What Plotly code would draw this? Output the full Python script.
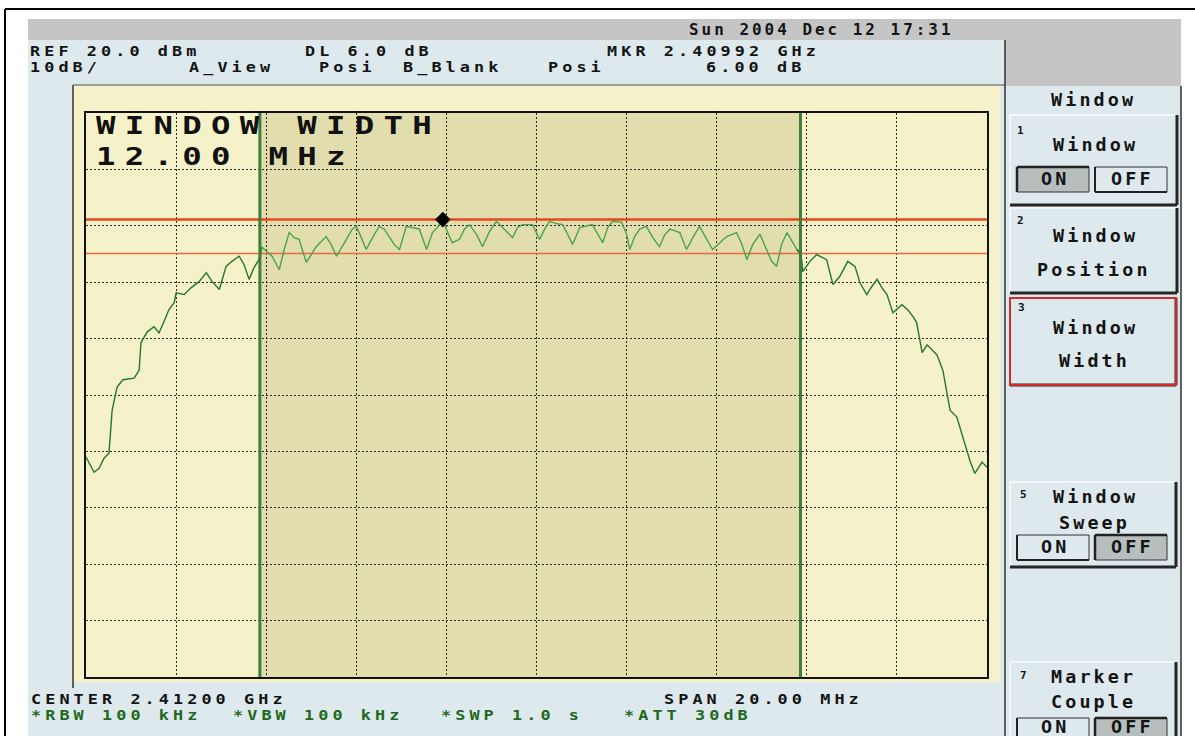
import plotly.graph_objects as go

START_GHZ = 2.402          # left edge of the display
SPAN_MHZ = 20.0
REF_DBM = 20.0
DB_PER_DIV = 10.0
N_DIV = 10

freq_offset_mhz = [0.00, 0.11, 0.18, 0.29, 0.40, 0.51, 0.58, 0.69, 0.82, 1.07,
                   1.18, 1.22, 1.36, 1.51, 1.62, 1.73, 1.84, 1.96, 2.00, 2.18,
                   2.33, 2.51, 2.67, 2.80, 2.96, 3.11, 3.24, 3.40, 3.51, 3.62,
                   3.73, 3.84, 3.91, 4.02, 4.13, 4.29, 4.40, 4.51, 4.62, 4.73,
                   4.89, 5.00, 5.11, 5.33, 5.44, 5.56, 5.67, 5.78, 5.91, 6.00,
                   6.11, 6.22, 6.36, 6.51, 6.62, 6.73, 6.84, 6.96, 7.11, 7.24,
                   7.40, 7.56, 7.69, 7.80, 7.91, 8.02, 8.13, 8.29, 8.40, 8.51,
                   8.67, 8.80, 8.96, 9.11, 9.29, 9.47, 9.58, 9.69, 9.91, 10.07,
                   10.18, 10.29, 10.44, 10.58, 10.69, 10.80, 10.96, 11.11, 11.24, 11.36,
                   11.47, 11.58, 11.69, 11.89, 12.00, 12.07, 12.18, 12.29, 12.44, 12.58,
                   12.73, 12.84, 12.96, 13.18, 13.33, 13.47, 13.62, 13.78, 13.91, 14.07,
                   14.22, 14.44, 14.56, 14.67, 14.80, 14.96, 15.11, 15.22, 15.33, 15.44,
                   15.56, 15.67, 15.78, 15.87, 15.91, 16.07, 16.22, 16.33, 16.44, 16.58,
                   16.73, 16.91, 17.07, 17.18, 17.33, 17.44, 17.56, 17.67, 17.78, 17.91,
                   18.11, 18.24, 18.36, 18.44, 18.56, 18.67, 18.78, 18.89, 19.02, 19.11,
                   19.18, 19.33, 19.47, 19.62, 19.73, 19.89, 20.00]

level_dbm = [-41.0, -42.6, -43.7, -43.0, -41.2, -40.3, -32.7, -28.6, -27.3, -27.0,
             -25.6, -20.7, -18.8, -17.9, -19.0, -17.0, -14.9, -13.6, -11.9, -12.2,
             -11.0, -9.9, -8.3, -9.9, -11.3, -7.2, -6.3, -5.4, -6.9, -9.5,
             -7.4, -6.0, -3.8, -4.6, -5.4, -7.8, -4.2, -1.2, -2.1, -2.4,
             -6.5, -5.1, -3.7, -1.9, -3.3, -5.4, -3.8, -2.4, -0.6, -0.1,
             -2.1, -4.2, -2.1, -0.1, -0.6, -1.9, -3.3, -4.2, -0.1, -0.3,
             -0.6, -4.2, -1.2, -0.3, 1.1, -1.0, -3.0, -2.4, -0.6, 0.2,
             -1.5, -3.7, -1.0, 0.8, -0.6, -2.1, -0.3, 0.2, 0.2, -2.4,
             -0.6, 0.8, 0.4, 0.2, -1.5, -3.3, -0.3, -0.1, 0.2, -1.5,
             -3.0, -0.3, 0.8, 0.6, -1.5, -4.2, -1.9, -0.6, -0.1, -2.1,
             -3.7, -1.7, -0.6, -1.2, -4.2, -2.1, -0.1, -2.4, -4.2, -3.0,
             -1.9, -1.2, -3.3, -6.0, -3.3, -1.5, -4.2, -6.3, -7.2, -3.3,
             -1.2, -2.8, -4.2, -5.1, -8.1, -6.3, -5.1, -5.6, -6.0, -10.4,
             -9.0, -6.3, -7.2, -10.1, -12.2, -10.8, -9.5, -11.0, -12.2, -15.4,
             -14.0, -14.9, -16.1, -17.2, -22.5, -21.1, -22.0, -22.9, -25.6, -29.5,
             -32.7, -33.9, -37.5, -41.6, -43.9, -41.9, -42.8]

assert len(freq_offset_mhz) == len(level_dbm)

marker_freq_ghz = 2.40992
marker_level_dbm = 1.1
display_line_db = 6.0
window_left_offset_mhz = 3.86
window_width_mhz = 12.0

center_ghz = START_GHZ + SPAN_MHZ / 2000.0
stop_ghz = START_GHZ + SPAN_MHZ / 1000.0
freq_ghz = [START_GHZ + f / 1000.0 for f in freq_offset_mhz]
win_lo = START_GHZ + window_left_offset_mhz / 1000.0
win_hi = win_lo + window_width_mhz / 1000.0

# ---------------- screen geometry helpers (layout only) ----------------
W, H = 1195, 736
L, R, T, B = 86, 987, 113, 677


def px(X):
    return (X - L) / (R - L)


def py(Y):
    return (B - Y) / (B - T)


shapes = []
annos = []


def rect(x0, y0, x1, y1, fill=None, lc=None, lw=0, layer='below'):
    shapes.append(dict(type='rect', xref='paper', yref='paper',
                       x0=px(x0), x1=px(x1), y0=py(y1), y1=py(y0),
                       fillcolor=fill if fill else 'rgba(0,0,0,0)',
                       line=dict(color=lc if lc else 'rgba(0,0,0,0)', width=lw),
                       layer=layer))


def seg(x0, y0, x1, y1, color, width, layer='below'):
    shapes.append(dict(type='line', xref='paper', yref='paper',
                       x0=px(x0), x1=px(x1), y0=py(y0), y1=py(y1),
                       line=dict(color=color, width=width), layer=layer))


MONO = 'DejaVu Sans Mono'
S_STATUS = 14      # status-line text
S_DATE = 14.5      # clock text
S_KEY = 16         # soft-key labels
S_BIG = 24         # big readout


def text(s, X, Y, size=S_STATUS, color='#141414', bold=True, family=MONO):
    annos.append(dict(text=s, xref='paper', yref='paper', x=px(X), y=py(Y),
                      xanchor='left', yanchor='middle', align='left',
                      showarrow=False, borderpad=0,
                      font=dict(family=family, size=size, color=color,
                                weight='bold' if bold else 'normal')))


BLUE = '#dde9ec'
GRAY = '#c5c5c5'
YEL = '#f5f1c8'
WIN = '#e2ddad'

# screen background
rect(28, 19, 1181, 736, fill=BLUE)
rect(28, 19, 1181, 40, fill=GRAY)
rect(1005, 19, 1181, 86, fill=GRAY)
# yellow display area
rect(73, 85, 1000, 682, fill=YEL)
seg(73, 85, 73, 688, '#303030', 1.5)
seg(73, 85, 1005, 85, '#505050', 1)
seg(1005, 40, 1005, 736, '#303030', 1.5)
seg(1181, 86, 1181, 736, '#303030', 1.5)
# outer black frame of the photo
seg(5, 9, 1195, 9, '#000000', 2)
seg(5, 9, 5, 736, '#000000', 2)

# window shading (data x, paper y)
shapes.append(dict(type='rect', xref='x', yref='paper', x0=win_lo, x1=win_hi,
                   y0=0, y1=1, fillcolor=WIN, line=dict(width=0), layer='below'))
# window edges
for xv in (win_lo, win_hi):
    shapes.append(dict(type='line', xref='x', yref='paper', x0=xv, x1=xv, y0=0, y1=1,
                       line=dict(color='#3d7d3d', width=3), layer='above'))


# ---------------- soft keys ----------------
def key(x0, y0, x1, y1, red=False):
    seg(x0, y0, x1, y0, '#f8fbfc', 1.5, 'above')
    seg(x0, y0, x0, y1, '#f8fbfc', 1.5, 'above')
    seg(x1, y0, x1, y1, '#262626', 3, 'above')
    seg(x0, y1, x1, y1, '#262626', 3, 'above')
    if red:
        rect(x0, y0, x1, y1, lc='#d42a2a', lw=2, layer='above')


def onoff(y0, y1, on_pressed, ty=None):
    boxes = [(1017, 1089), (1095, 1167)]
    for i, (a, b) in enumerate(boxes):
        pressed = (i == 0) == on_pressed
        rect(a, y0, b, y1, fill='#b7bebe' if pressed else BLUE, lc='#333333', lw=1, layer='above')
        if pressed:
            seg(a, y0, b, y0, '#222222', 2.5, 'above')
            seg(a, y0, a, y1, '#222222', 2.5, 'above')
        else:
            seg(a, y0, a, y1, '#222222', 2, 'above')
            seg(a, y1, b, y1, '#222222', 2, 'above')
    ymid = (y0 + y1) / 2 if ty is None else ty
    text('ON', 1040, ymid, size=S_KEY)
    text('OFF', 1110, ymid, size=S_KEY)


key(1010, 115, 1177, 205)
key(1010, 208, 1177, 293)
key(1010, 298, 1176, 385, red=True)
key(1010, 482, 1176, 567)
key(1010, 662, 1176, 760)
onoff(167, 192, True)
onoff(535, 560, False)
onoff(718, 746, False, ty=727)

text('Window', 1050, 100, size=S_KEY)
text('1', 1016, 130, size=11)
text('Window', 1052, 146, size=S_KEY)
text('2', 1016, 220, size=11)
text('Window', 1052, 236, size=S_KEY)
text('Position', 1036, 270, size=S_KEY)
text('3', 1017, 307, size=11)
text('Window', 1052, 328, size=S_KEY)
text('Width', 1058, 361, size=S_KEY)
text('5', 1019, 495, size=11)
text('Window', 1052, 497, size=S_KEY)
text('Sweep', 1058, 523, size=S_KEY)
text('7', 1019, 675, size=11)
text('Marker', 1050, 677, size=S_KEY)
text('Couple', 1050, 702, size=S_KEY)

# ---------------- status texts ----------------
text('Sun 2004 Dec 12 17:31', 688, 30, size=S_DATE)
text(f'REF {REF_DBM:.1f} dBm', 29, 51)
text(f'DL {display_line_db:.1f} dB', 304, 51)
text(f'MKR {marker_freq_ghz:.5f} GHz', 606, 51)
text(f'{DB_PER_DIV:.0f}dB/', 29, 67)
text('A_View', 188, 67)
text('Posi', 318, 67)
text('B_Blank', 402, 67)
text('Posi', 547, 67)
text(f'{display_line_db:.2f} dB', 705, 67)
text(f'CENTER {center_ghz:.5f} GHz', 30, 699)
text(f'SPAN {SPAN_MHZ:.2f} MHz', 663, 699)
GREEN_TXT = '#1d6a1d'
text('*RBW 100 kHz', 30, 715, color=GREEN_TXT)
text('*VBW 100 kHz', 232, 715, color=GREEN_TXT)
text('*SWP 1.0 s', 440, 715, color=GREEN_TXT)
text('*ATT 30dB', 623, 715, color=GREEN_TXT)
# big window-width readout
text('WINDOW WIDTH', 95, 126, size=S_BIG, color='#111111')
text(f'{window_width_mhz:.2f} MHz', 95, 157, size=S_BIG, color='#111111')

# ---------------- traces ----------------
fig = go.Figure()
dl_upper = marker_level_dbm
dl_lower = marker_level_dbm - display_line_db
fig.add_trace(go.Scatter(x=[START_GHZ, stop_ghz], y=[dl_upper, dl_upper], mode='lines',
                         line=dict(color='#e8461e', width=2.5), hoverinfo='skip', showlegend=False))
fig.add_trace(go.Scatter(x=[START_GHZ, stop_ghz], y=[dl_lower, dl_lower], mode='lines',
                         line=dict(color='#e66a45', width=1.5), hoverinfo='skip', showlegend=False))

left = [(f, v) for f, v in zip(freq_ghz, level_dbm) if f <= win_lo + 0.0001]
mid = [(f, v) for f, v in zip(freq_ghz, level_dbm) if win_lo - 0.0001 <= f <= win_hi + 0.0001]
right = [(f, v) for f, v in zip(freq_ghz, level_dbm) if f >= win_hi - 0.0001]
for part, col in ((left, '#23782a'), (mid, '#4aa34a'), (right, '#23782a')):
    fig.add_trace(go.Scatter(x=[p[0] for p in part], y=[p[1] for p in part],
                             mode='lines', line=dict(color=col, width=1.4),
                             hoverinfo='skip', showlegend=False))
fig.add_trace(go.Scatter(x=[marker_freq_ghz], y=[marker_level_dbm], mode='markers',
                         marker=dict(symbol='diamond', size=12, color='#000000'),
                         showlegend=False, hoverinfo='skip'))

y_bottom = REF_DBM - N_DIV * DB_PER_DIV
axis_common = dict(showticklabels=False, ticks='', zeroline=False, showgrid=True,
                   gridcolor='#2a2a2a', gridwidth=1, griddash='2px,2px',
                   showline=True, linecolor='#111111', linewidth=2, mirror=True,
                   fixedrange=True)
fig.update_layout(
    width=W, height=H, autosize=False,
    margin=dict(l=L, r=W - R, t=T, b=H - B, pad=0),
    paper_bgcolor='#ffffff', plot_bgcolor=YEL,
    xaxis=dict(range=[START_GHZ, stop_ghz], dtick=SPAN_MHZ / 10000.0,
               tick0=START_GHZ, **axis_common),
    yaxis=dict(range=[y_bottom, REF_DBM], dtick=DB_PER_DIV, tick0=y_bottom, **axis_common),
    shapes=shapes, annotations=annos, showlegend=False,
)

# character pitch (px), horizontal and vertical glyph stretch of the analyser font, per size
font_grid = {S_STATUS: (14.2, 1.2, 1.0), S_DATE: (12.6, 1.1, 1.1),
             S_KEY: (14.2, 1.15, 1.06), S_BIG: (28.75, 1.35, 1.04)}
js_rows = ",".join(f"[{k},{sx},{(p / sx) - 0.602 * k:.2f},{sy}]"
                   for k, (p, sx, sy) in font_grid.items())
post = """
document.documentElement.style.margin = '0';
document.body.style.margin = '0';
document.body.style.padding = '0';
var gd = document.getElementById('{plot_id}');
var rows = [%s];
gd.querySelectorAll('text.annotation-text').forEach(function(t){
  var fs = parseFloat(t.style.fontSize);
  rows.forEach(function(r){
    if (Math.abs(fs - r[0]) < 0.05) {
      t.style.letterSpacing = r[2] + 'px';
      var bb = t.getBBox();
      var x = bb.x, yc = bb.y + bb.height * 0.5;
      var old = t.getAttribute('transform') || '';
      t.setAttribute('transform', 'translate(' + (x * (1 - r[1])) + ',' + (yc * (1 - r[3])) +
                     ') scale(' + r[1] + ',' + r[3] + ') ' + old);
    }
  });
});
""" % js_rows
fig.write_html("out.html", config={'displayModeBar': False, 'responsive': False},
               post_script=post)
